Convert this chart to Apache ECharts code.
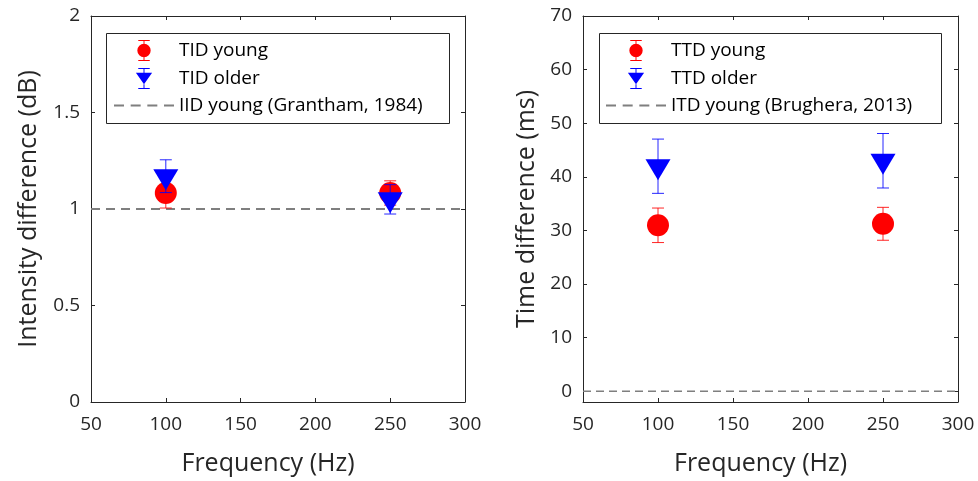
<!DOCTYPE html>
<html>
<head>
<meta charset="utf-8">
<style>html,body{margin:0;padding:0;background:#fff;}#c{width:978px;height:481px;}</style>
<script src="https://cdn.jsdelivr.net/npm/echarts@6/dist/echarts.min.js"></script>
</head>
<body>
<div id="c"></div>
<script>
// ---- data ----
const freqs = [100, 250];
const tidYoung = [1.083, 1.083];
const tidYoungErr = [0.078, 0.063];
const tidOlder = [1.170, 1.050];
const tidOlderErr = [0.085, 0.076];
const ttdYoung = [30.96, 31.24];
const ttdYoungErr = [3.22, 3.07];
const ttdOlder = [41.98, 43.0];
const ttdOlderErr = [5.06, 5.08];
const iidRef = 1;     // Grantham, 1984
const itdRef = 0;     // Brughera, 2013
const xTicks = [50, 100, 150, 200, 250, 300];
const leftYTicks = [0, 0.5, 1, 1.5, 2];
const rightYTicks = [0, 10, 20, 30, 40, 50, 60, 70];
const leftNames = ['TID young', 'TID older', 'IID young (Grantham, 1984)'];
const rightNames = ['TTD young', 'TTD older', 'ITD young (Brughera, 2013)'];

// ---- helpers ----
const FONT = 'Open Sans';
const AX = '#262626';
const RED = '#ff0000', BLUE = '#0000ff', GRAY = '#7f7f7f';
const TRI = 'path://M0,0L25,0L12.5,21Z';
const ICON_CIRC = 'path://M-6,-11h12v1h-12z M-0.5,-10v3h1v-3z M-7,0a7,7 0 1 0 14,0a7,7 0 1 0 -14,0z M-0.5,7v3h1v-3z M-6,10h12v1h-12z';
const ICON_TRI = 'path://M-6,-11h12v1h-12z M-0.5,-10v4h1v-4z M-8.5,-6h17l-8.5,12z M-0.5,6v4h1v-4z M-6,10h12v1h-12z';
const ICON_DASH = 'path://M0,0h10v2h-10z M16.67,0h10v2h-10z M33.33,0h10v2h-10z M50,0h10v2h-10z';

function pts(xs, ys) { return xs.map((x, i) => [x, ys[i]]); }
function errs(xs, ys, es) { return xs.map((x, i) => [x, ys[i] - es[i], ys[i] + es[i]]); }
function errRender(color) {
  return function (params, api) {
    const x = api.value(0), lo = api.value(1), hi = api.value(2);
    const p1 = api.coord([x, lo]), p2 = api.coord([x, hi]);
    const hw = 6;
    const st = { stroke: color, lineWidth: 1, opacity: 0.85 };
    return {
      type: 'group',
      children: [
        { type: 'line', shape: { x1: p1[0], y1: p1[1], x2: p2[0], y2: p2[1] }, style: st },
        { type: 'line', shape: { x1: p1[0] - hw, y1: p1[1], x2: p1[0] + hw, y2: p1[1] }, style: st },
        { type: 'line', shape: { x1: p2[0] - hw, y1: p2[1], x2: p2[0] + hw, y2: p2[1] }, style: st }
      ]
    };
  };
}

function xAxes(gi, xname, nameShift) {
  return [
    {
      type: 'value', gridIndex: gi, min: 50, max: 300, interval: 50, position: 'bottom',
      name: xname, nameLocation: 'middle', nameGap: 49,
      nameTextStyle: { fontFamily: FONT, fontSize: 25, color: AX, padding: [0, nameShift, 0, 0] },
      axisLine: { show: true, onZero: false, lineStyle: { color: AX, width: 1 } },
      axisTick: { show: true, inside: true, length: 4, lineStyle: { color: AX } },
      axisLabel: { fontFamily: FONT, fontSize: 19, color: AX, margin: 13 },
      splitLine: { show: false }
    },
    {
      type: 'value', gridIndex: gi, min: 50, max: 300, interval: 50, position: 'top',
      axisLine: { show: true, onZero: false, lineStyle: { color: AX, width: 1 } },
      axisTick: { show: true, inside: true, length: 4, lineStyle: { color: AX } },
      axisLabel: { show: false }, splitLine: { show: false }
    }
  ];
}

function legendFor(names, left) {
  return {
    data: [
      { name: names[0], icon: ICON_CIRC },
      { name: names[1], icon: ICON_TRI },
      { name: names[2], icon: ICON_DASH, itemStyle: { color: GRAY, borderWidth: 0 } }
    ],
    orient: 'vertical', left: left, top: 40, padding: 0, itemGap: 7,
    itemWidth: 60, itemHeight: 21, selectedMode: false,
    textStyle: { fontFamily: FONT, fontSize: 19, color: '#000' }
  };
}

const chart = echarts.init(document.getElementById('c'), null, { renderer: 'canvas' });

const option = {
  animation: false,
  backgroundColor: '#fff',
  grid: [
    { left: 91, top: 16, width: 374, height: 387, containLabel: false },
    { left: 583, top: 16, width: 375, height: 387, containLabel: false }
  ],
  xAxis: [].concat(xAxes(0, 'Frequency (Hz)', 20), xAxes(1, 'Frequency (Hz)', 20)),
  yAxis: [
    {
      type: 'value', gridIndex: 0, min: 0, max: 2, interval: 0.5, position: 'left',
      name: 'Intensity difference (dB)', nameLocation: 'middle', nameGap: 50,
      nameTextStyle: { fontFamily: FONT, fontSize: 25, color: AX },
      axisLine: { show: true, onZero: false, lineStyle: { color: AX, width: 1 } },
      axisTick: { show: true, inside: true, length: 4, lineStyle: { color: AX } },
      axisLabel: { fontFamily: FONT, fontSize: 19, color: AX, margin: 11, customValues: leftYTicks },
      splitLine: { show: false }
    },
    {
      type: 'value', gridIndex: 0, min: 0, max: 2, interval: 0.5, position: 'right',
      axisLine: { show: true, onZero: false, lineStyle: { color: AX, width: 1 } },
      axisTick: { show: true, inside: true, length: 4, lineStyle: { color: AX } },
      axisLabel: { show: false }, splitLine: { show: false }
    },
    {
      type: 'value', gridIndex: 1, min: -2, max: 70, position: 'left',
      name: 'Time difference (ms)', nameLocation: 'middle', nameGap: 44,
      nameTextStyle: { fontFamily: FONT, fontSize: 25, color: AX },
      axisLine: { show: true, onZero: false, lineStyle: { color: AX, width: 1 } },
      axisTick: { show: true, inside: true, length: 4, lineStyle: { color: AX }, customValues: rightYTicks },
      axisLabel: { fontFamily: FONT, fontSize: 19, color: AX, margin: 11, customValues: rightYTicks },
      splitLine: { show: false }
    },
    {
      type: 'value', gridIndex: 1, min: -2, max: 70, position: 'right',
      axisLine: { show: true, onZero: false, lineStyle: { color: AX, width: 1 } },
      axisTick: { show: true, inside: true, length: 4, lineStyle: { color: AX }, customValues: rightYTicks },
      axisLabel: { show: false }, splitLine: { show: false }
    }
  ],
  legend: [legendFor(leftNames, 114), legendFor(rightNames, 606)],
  graphic: [
    { type: 'rect', shape: { x: 106.5, y: 33.5, width: 343, height: 90 }, style: { fill: '#fff', stroke: AX, lineWidth: 1 }, z: 3, silent: true },
    { type: 'rect', shape: { x: 599.5, y: 33.5, width: 342, height: 90 }, style: { fill: '#fff', stroke: AX, lineWidth: 1 }, z: 3, silent: true }
  ],
  series: [
    // left panel
    { name: leftNames[2], type: 'line', xAxisIndex: 0, yAxisIndex: 0, data: [[50, iidRef], [300, iidRef]],
      symbol: 'none', lineStyle: { color: GRAY, width: 2, type: [9, 6] }, itemStyle: { color: GRAY }, z: 1 },
    { type: 'custom', xAxisIndex: 0, yAxisIndex: 0, renderItem: errRender(RED), data: errs(freqs, tidYoung, tidYoungErr),
      encode: { x: 0, y: [1, 2] }, z: 2 },
    { name: leftNames[0], type: 'scatter', xAxisIndex: 0, yAxisIndex: 0, data: pts(freqs, tidYoung),
      symbol: 'circle', symbolSize: 22, itemStyle: { color: RED, opacity: 1 }, z: 3 },
    { type: 'custom', xAxisIndex: 0, yAxisIndex: 0, renderItem: errRender(BLUE), data: errs(freqs, tidOlder, tidOlderErr),
      encode: { x: 0, y: [1, 2] }, z: 4 },
    { name: leftNames[1], type: 'scatter', xAxisIndex: 0, yAxisIndex: 0, data: pts(freqs, tidOlder),
      symbol: TRI, symbolSize: [25, 21], symbolKeepAspect: false, symbolOffset: [0, 3.5], itemStyle: { color: BLUE, opacity: 1 }, z: 5 },
    // right panel
    { name: rightNames[2], type: 'line', xAxisIndex: 2, yAxisIndex: 2, data: [[50, itdRef], [300, itdRef]],
      symbol: 'none', lineStyle: { color: GRAY, width: 1.5, type: [8, 5] }, itemStyle: { color: GRAY }, z: 1 },
    { type: 'custom', xAxisIndex: 2, yAxisIndex: 2, renderItem: errRender(RED), data: errs(freqs, ttdYoung, ttdYoungErr),
      encode: { x: 0, y: [1, 2] }, z: 2 },
    { name: rightNames[0], type: 'scatter', xAxisIndex: 2, yAxisIndex: 2, data: pts(freqs, ttdYoung),
      symbol: 'circle', symbolSize: 22, itemStyle: { color: RED, opacity: 1 }, z: 3 },
    { type: 'custom', xAxisIndex: 2, yAxisIndex: 2, renderItem: errRender(BLUE), data: errs(freqs, ttdOlder, ttdOlderErr),
      encode: { x: 0, y: [1, 2] }, z: 4 },
    { name: rightNames[1], type: 'scatter', xAxisIndex: 2, yAxisIndex: 2, data: pts(freqs, ttdOlder),
      symbol: TRI, symbolSize: [25, 21], symbolKeepAspect: false, symbolOffset: [0, 3.5], itemStyle: { color: BLUE, opacity: 1 }, z: 5 }
  ]
};
chart.setOption(option);
</script>
</body>
</html>
